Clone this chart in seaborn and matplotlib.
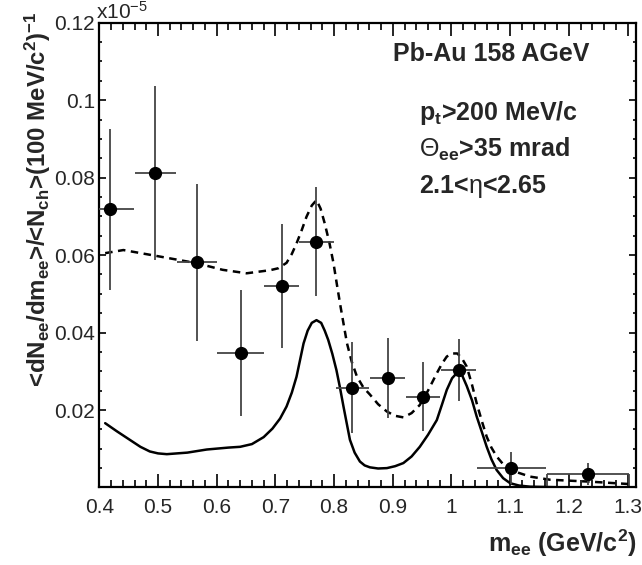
import numpy as np
import matplotlib as mpl
import matplotlib.pyplot as plt
import seaborn as sns

# data (units of 1e-5)
mee = [0.418, 0.495, 0.566, 0.641, 0.711, 0.770, 0.831, 0.891, 0.951, 1.012, 1.102, 1.232]
dndm = [0.0718, 0.0812, 0.0581, 0.0347, 0.0520, 0.0635, 0.0258, 0.0283, 0.0234, 0.0303, 0.0050, 0.0035]
dndm_err = [0.0207, 0.0224, 0.0202, 0.0162, 0.0161, 0.0141, 0.0118, 0.0103, 0.0089, 0.0080, 0.0042, 0.0029]
mee_err = [0.041, 0.035, 0.034, 0.040, 0.030, 0.030, 0.028, 0.030, 0.029, 0.030, 0.059, 0.070]

# hadronic cocktail (solid)
cock_x = [0.410, 0.430, 0.450, 0.470, 0.486, 0.500, 0.515, 0.550, 0.583, 0.620, 0.640, 0.660,
          0.680, 0.695, 0.708, 0.719, 0.728, 0.736, 0.742, 0.748, 0.755, 0.762, 0.770, 0.778,
          0.784, 0.790, 0.797, 0.804, 0.810, 0.816, 0.822, 0.827, 0.835, 0.844, 0.852, 0.861,
          0.875, 0.890, 0.904, 0.918, 0.932, 0.946, 0.960, 0.975, 0.984, 0.992, 1.001, 1.010,
          1.018, 1.026, 1.035, 1.043, 1.052, 1.060, 1.068, 1.077, 1.088, 1.100, 1.115, 1.134,
          1.200, 1.300]
cock_y = [0.0166, 0.0145, 0.0125, 0.0105, 0.0093, 0.0088, 0.0086, 0.0090, 0.0098, 0.0103, 0.0105, 0.0112,
          0.0130, 0.0152, 0.0178, 0.0209, 0.0245, 0.0286, 0.0329, 0.0372, 0.0405, 0.0425, 0.0432, 0.0425,
          0.0405, 0.0381, 0.0345, 0.0303, 0.0258, 0.0209, 0.0162, 0.0123, 0.0090, 0.0067, 0.0057, 0.0052,
          0.0049, 0.0050, 0.0055, 0.0063, 0.0080, 0.0105, 0.0136, 0.0174, 0.0215, 0.0252, 0.0282, 0.0297,
          0.0290, 0.0262, 0.0225, 0.0183, 0.0142, 0.0105, 0.0073, 0.0045, 0.0024, 0.0011, 0.0005, 0.0002,
          0.0, 0.0]

# cocktail + in-medium (dashed)
model_x = [0.410, 0.441, 0.504, 0.566, 0.610, 0.651, 0.691, 0.705, 0.719, 0.728, 0.736, 0.745,
           0.753, 0.762, 0.770, 0.777, 0.784, 0.792, 0.799, 0.805, 0.811, 0.817, 0.822, 0.830,
           0.839, 0.850, 0.861, 0.875, 0.890, 0.904, 0.918, 0.932, 0.946, 0.960, 0.975, 0.984,
           0.992, 1.001, 1.010, 1.018, 1.026, 1.035, 1.043, 1.052, 1.060, 1.068, 1.077, 1.088,
           1.100, 1.134, 1.168, 1.236, 1.301]
model_y = [0.0605, 0.0613, 0.0596, 0.0579, 0.0562, 0.0553, 0.0561, 0.0566, 0.0580, 0.0603, 0.0630, 0.0665,
           0.0699, 0.0728, 0.0742, 0.0720, 0.0682, 0.0632, 0.0579, 0.0522, 0.0467, 0.0415, 0.0372, 0.0325,
           0.0286, 0.0258, 0.0240, 0.0215, 0.0196, 0.0185, 0.0181, 0.0192, 0.0213, 0.0250, 0.0295, 0.0320,
           0.0338, 0.0346, 0.0346, 0.0333, 0.0312, 0.0265, 0.0217, 0.0170, 0.0131, 0.0103, 0.0080, 0.0060,
           0.0045, 0.0028, 0.0020, 0.0015, 0.0009]

sns.set_theme(style='ticks')
plt.rcParams['font.family'] = ['Liberation Sans', 'DejaVu Sans']
plt.rcParams['mathtext.fontset'] = 'custom'
plt.rcParams['mathtext.rm'] = 'Liberation Sans'
plt.rcParams['mathtext.bf'] = 'Liberation Sans:bold'
plt.rcParams['mathtext.it'] = 'Liberation Sans:italic'
plt.rcParams['mathtext.default'] = 'bf'

W, H = 642, 565
fig = plt.figure(figsize=(W / 100, H / 100), dpi=100)
ax = fig.add_axes([99.3 / W, 1 - 486.7 / H, (635.5 - 99.3) / W, (486.7 - 22.7) / H])

sns.lineplot(x=cock_x, y=cock_y, ax=ax, color='black', lw=1.8, sort=False)
sns.lineplot(x=model_x, y=model_y, ax=ax, color='black', lw=1.8, sort=False,
             linestyle=(0, (3, 2.2)))

ax.errorbar(mee, dndm, xerr=mee_err, yerr=dndm_err, fmt='o', color='black',
            ecolor='#444444', elinewidth=1.3, capsize=0, markersize=8.5, zorder=5)
# end marks of the last bin
ax.vlines([mee[-1] - mee_err[-1], mee[-1] + mee_err[-1]], 0, dndm[-1],
          color='#444444', lw=1.3)

ax.set_xlim(0.4, 1.3135)
ax.set_ylim(0.0002, 0.12)
ax.set_xticks(np.arange(0.4, 1.31, 0.1))
ax.set_xticklabels(['0.4', '0.5', '0.6', '0.7', '0.8', '0.9', '1', '1.1', '1.2', '1.3'])
ax.set_xticks(np.arange(0.4, 1.31, 0.02), minor=True)
ax.set_yticks([0.02, 0.04, 0.06, 0.08, 0.1, 0.12])
ax.set_yticklabels(['0.02', '0.04', '0.06', '0.08', '0.1', '0.12'])
ax.set_yticks(np.arange(0.005, 0.1201, 0.005), minor=True)

ax.tick_params(axis='both', which='both', direction='in', top=True, right=True,
               labelsize=15, color='black', width=1.2)
ax.tick_params(axis='x', which='major', length=9.4, pad=8)
ax.tick_params(axis='x', which='minor', length=4.8)
ax.tick_params(axis='y', which='major', length=4.8, pad=3)
ax.tick_params(axis='y', which='minor', length=2.4)
for s in ax.spines.values():
    s.set_linewidth(1.6)
    s.set_color('black')
ax.set_facecolor('white')

# exponent
fig.text(96.5 / W, 1 - 19 / H, r'x10$^{\mathrm{-5}}$', fontsize=15, ha='left', va='baseline')

# axis titles
fig.text(38 / W, 1 - 12 / H,
         r'<dN$_{ee}$/dm$_{ee}$>/<N$_{ch}$>(100 MeV/c$^{2}$)$^{-1}$',
         rotation=90, ha='center', va='top', fontsize=17.3, fontweight='bold')
fig.text(637 / W, 1 - 543 / H, r'm$_{ee}$ (GeV/c$^{2}$)', ha='right', va='center',
         fontsize=18, fontweight='bold')

# labels in the plot
fig.text(393 / W, 1 - 61 / H, 'Pb-Au 158 AGeV', fontsize=18, fontweight='bold', va='baseline')
fig.text(419 / W, 1 - 120 / H, r'p$_{t}$>200 MeV/c', fontsize=18, fontweight='bold', va='baseline')
fig.text(419 / W, 1 - 157 / H, r'$\mathrm{\Theta}_{ee}$>35 mrad', fontsize=18, fontweight='bold',
         va='baseline')
fig.text(419 / W, 1 - 193 / H, r'2.1<$\mathrm{\eta}$<2.65', fontsize=18, fontweight='bold',
         va='baseline')

fig.savefig('out.png', dpi=100, facecolor='white')
